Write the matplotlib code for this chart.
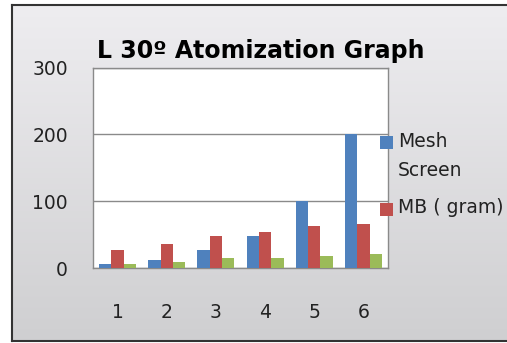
import matplotlib
matplotlib.use("Agg")
import matplotlib.pyplot as plt
import numpy as np
from matplotlib.patches import Rectangle

plt.rcParams['font.family'] = ['DejaVu Sans']

# Data
categories = ['1', '2', '3', '4', '5', '6']
mesh_screen = [6, 12, 27, 48, 100, 200]
mb_gram = [27, 36, 48, 54, 63, 66]
third_series = [6, 9, 15, 15, 18, 21]
y_ticks = [0, 100, 200, 300]

blue = '#4F81BD'
red = '#C0504D'
green = '#9BBB59'

W, H = 507, 343
fig = plt.figure(figsize=(W / 100, H / 100), dpi=100)
fig.patch.set_facecolor('white')

# Gray gradient background inside the chart frame
bg = fig.add_axes([12 / W, 2 / H, 1 - 12 / W, 1 - 7 / H], zorder=-10)
grad = np.linspace(0, 1, 256).reshape(-1, 1)
bg.imshow(grad, aspect='auto', cmap=matplotlib.colors.LinearSegmentedColormap.from_list(
    'bg', ['#eeedf0', '#cfcfd1']), extent=[0, 1, 0, 1])
bg.set_xticks([])
bg.set_yticks([])
for side in ['top', 'left', 'bottom']:
    bg.spines[side].set_color('#333333')
    bg.spines[side].set_linewidth(1.5)
bg.spines['right'].set_visible(False)

ax = fig.add_axes([93 / W, 75 / H, 295 / W, 200.5 / H])
ax.set_facecolor('white')

x = np.arange(len(categories))
w = 0.25
b1 = ax.bar(x - w, mesh_screen, w, color=blue, zorder=3)
b2 = ax.bar(x, mb_gram, w, color=red, zorder=3)
b3 = ax.bar(x + w, third_series, w, color=green, zorder=3)

ax.set_xlim(-0.5, len(categories) - 0.5)
ax.set_ylim(0, 300)
ax.set_yticks(y_ticks)
ax.set_xticks(x)
ax.set_xticklabels(categories)
ax.yaxis.grid(True, color='#8a8a8a', linewidth=1.0, zorder=0)
ax.tick_params(axis='y', length=0, pad=18, labelsize=13.5, colors='#222222')
ax.tick_params(axis='x', length=0, pad=25, labelsize=13.5, colors='#222222')
for side in ['top', 'right', 'bottom', 'left']:
    ax.spines[side].set_color('#8a8a8a')
    ax.spines[side].set_linewidth(1.0)

fig.text(97 / W, 1 - 51 / H, 'L 30º Atomization Graph', fontsize=17,
         fontweight='bold', ha='left', va='center', color='black')

# Legend entries (the chart area cuts off the rest)
legend_items = [(blue, ['Mesh', 'Screen'], 142, [147, 176]),
                (red, ['MB ( gram)'], 209, [213])]
for color, lines, yc, baselines in legend_items:
    fig.add_artist(Rectangle((380 / W, 1 - (yc + 7) / H), 13 / W, 13 / H,
                             transform=fig.transFigure, facecolor=color,
                             edgecolor='none', zorder=5))
    for line, yb in zip(lines, baselines):
        fig.text(398 / W, 1 - yb / H, line, fontsize=13.5, ha='left',
                 va='baseline', color='#222222', zorder=5)

fig.savefig('out.png', dpi=100)
